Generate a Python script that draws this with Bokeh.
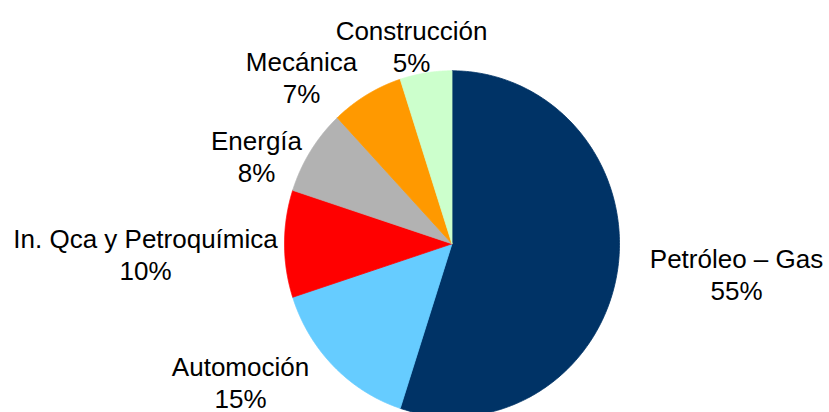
import numpy as np
from bokeh.plotting import figure
from bokeh.models import Range1d, ColumnDataSource
from bokeh.core.properties import value
from bokeh.embed import file_html
from bokeh.resources import INLINE

# ---- data ----
categories = ["Petróleo – Gas", "Automoción", "In. Qca y Petroquímica",
              "Energía", "Mecánica", "Construcción"]
shares = [55, 15, 10, 8, 7, 5]
pct_labels = ["55%", "15%", "10%", "8%", "7%", "5%"]
colors = ["#003366", "#66CCFF", "#FF0000", "#B2B2B2", "#FF9900", "#CCFFCC"]

# ---- layout (screen-pixel coordinates) ----
CX, CY, RX, RY = 451.5, 243.3, 167.5, 173.0
label_x = [736, 240, 145, 256, 301, 411]
label_y = [258.3, 366, 238.5, 140, 61.7, 30.7]
LINE_GAP = 32.0

W, H = 829, 412
p = figure(width=W, height=H, output_backend="svg", toolbar_location=None,
           x_range=Range1d(0, W), y_range=Range1d(H, 0),
           min_border=0, outline_line_color=None, background_fill_color="white",
           border_fill_color="white")
p.axis.visible = False
p.grid.visible = False

total = float(sum(shares))
cum = np.concatenate([[0.0], np.cumsum(shares)]) / total * 2 * np.pi
xs, ys = [], []
for i in range(len(shares)):
    th = np.linspace(cum[i], cum[i + 1], 200)
    xs.append([CX] + list(CX + RX * np.sin(th)) + [CX])
    ys.append([CY] + list(CY - RY * np.cos(th)) + [CY])

src = ColumnDataSource(dict(xs=xs, ys=ys, color=colors, cat=categories))
p.patches("xs", "ys", source=src, fill_color="color", line_color="color", line_width=0.8)

lab = ColumnDataSource(dict(
    x=label_x + label_x,
    y=label_y + [v + LINE_GAP for v in label_y],
    text=categories + pct_labels))
p.text("x", "y", text="text", source=lab, text_align="center", text_baseline="alphabetic",
       text_font=value("Liberation Sans"), text_font_size="26px", text_color="#000000")

open("out.html", "w").write(file_html(p, INLINE))
